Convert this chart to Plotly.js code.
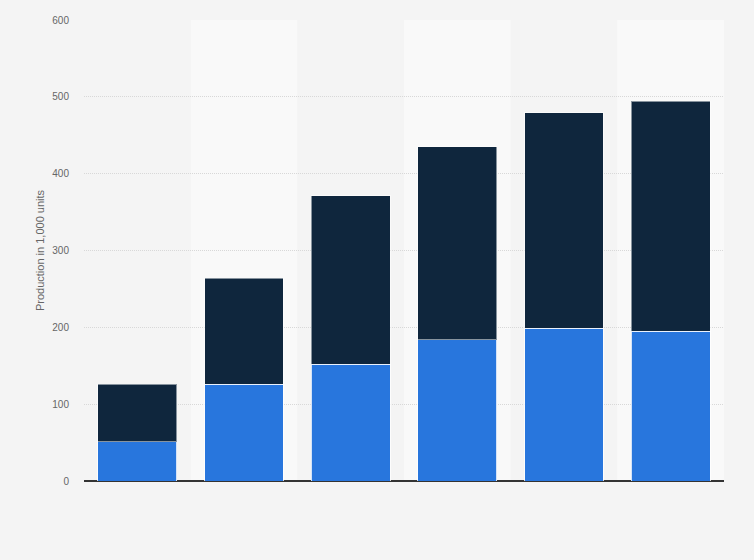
<!DOCTYPE html>
<html>
<head>
<meta charset="utf-8">
<script src="https://cdn.plot.ly/plotly-3.0.1.min.js"></script>
<style>
  body { margin: 0; background: #f4f4f4; }
  #graph { width: 754px; height: 560px; }
</style>
</head>
<body>
<div id="graph"></div>
<script>
// six columns, no labels printed on the axis
var categories = ["A", "B", "C", "D", "E", "F"]
var lowerPart = [51, 126, 152, 184, 199, 195]
var upperPart = [75, 138, 219, 251, 280, 299]
var yTicks = [0, 100, 200, 300, 400, 500, 600]

var trace1 = {
    x: categories,
    y: lowerPart,
    type: "bar",
    name: "lower",
    marker: {color: "#2876dd", line: {color: "rgba(255,255,255,0.8)", width: 1}},
    hoverinfo: "y"
}

var trace2 = {
    x: categories,
    y: upperPart,
    type: "bar",
    name: "upper",
    marker: {color: "#0f263d", line: {color: "rgba(255,255,255,0.5)", width: 1}},
    hoverinfo: "y"
}

// lighter background band behind every second column
var bands = []
for (var i = 1; i < categories.length; i += 2) {
    bands.push({
        type: "rect", xref: "x", yref: "paper",
        x0: i - 0.5, x1: i + 0.5, y0: 0, y1: 1,
        fillcolor: "#f9f9f9", line: {width: 0}, layer: "below"
    })
}

var layout = {
    width: 754,
    height: 560,
    barmode: "stack",
    bargap: 0.26,
    showlegend: false,
    paper_bgcolor: "#f4f4f4",
    plot_bgcolor: "#f4f4f4",
    margin: {l: 84, r: 30, t: 20, b: 79},
    font: {family: "Liberation Sans, Arial, sans-serif", color: "#666", size: 11},
    shapes: bands,
    xaxis: {
        showticklabels: false,
        showgrid: false,
        zeroline: false,
        showline: false,
        fixedrange: true
    },
    yaxis: {
        range: [0, 600],
        tickvals: yTicks,
        ticks: "",
        ticklabelstandoff: 14,
        showgrid: true,
        gridcolor: "#d8d8d8",
        griddash: "1px,1px",
        gridwidth: 1,
        zeroline: true,
        zerolinecolor: "#333",
        zerolinewidth: 1.3,
        tickfont: {size: 10, color: "#666"},
        title: {text: "Production in 1,000 units", font: {size: 11, color: "#666"}, standoff: 5},
        fixedrange: true
    }
}

Plotly.newPlot("graph", [trace1, trace2], layout, {displayModeBar: false, staticPlot: true})
</script>
</body>
</html>
